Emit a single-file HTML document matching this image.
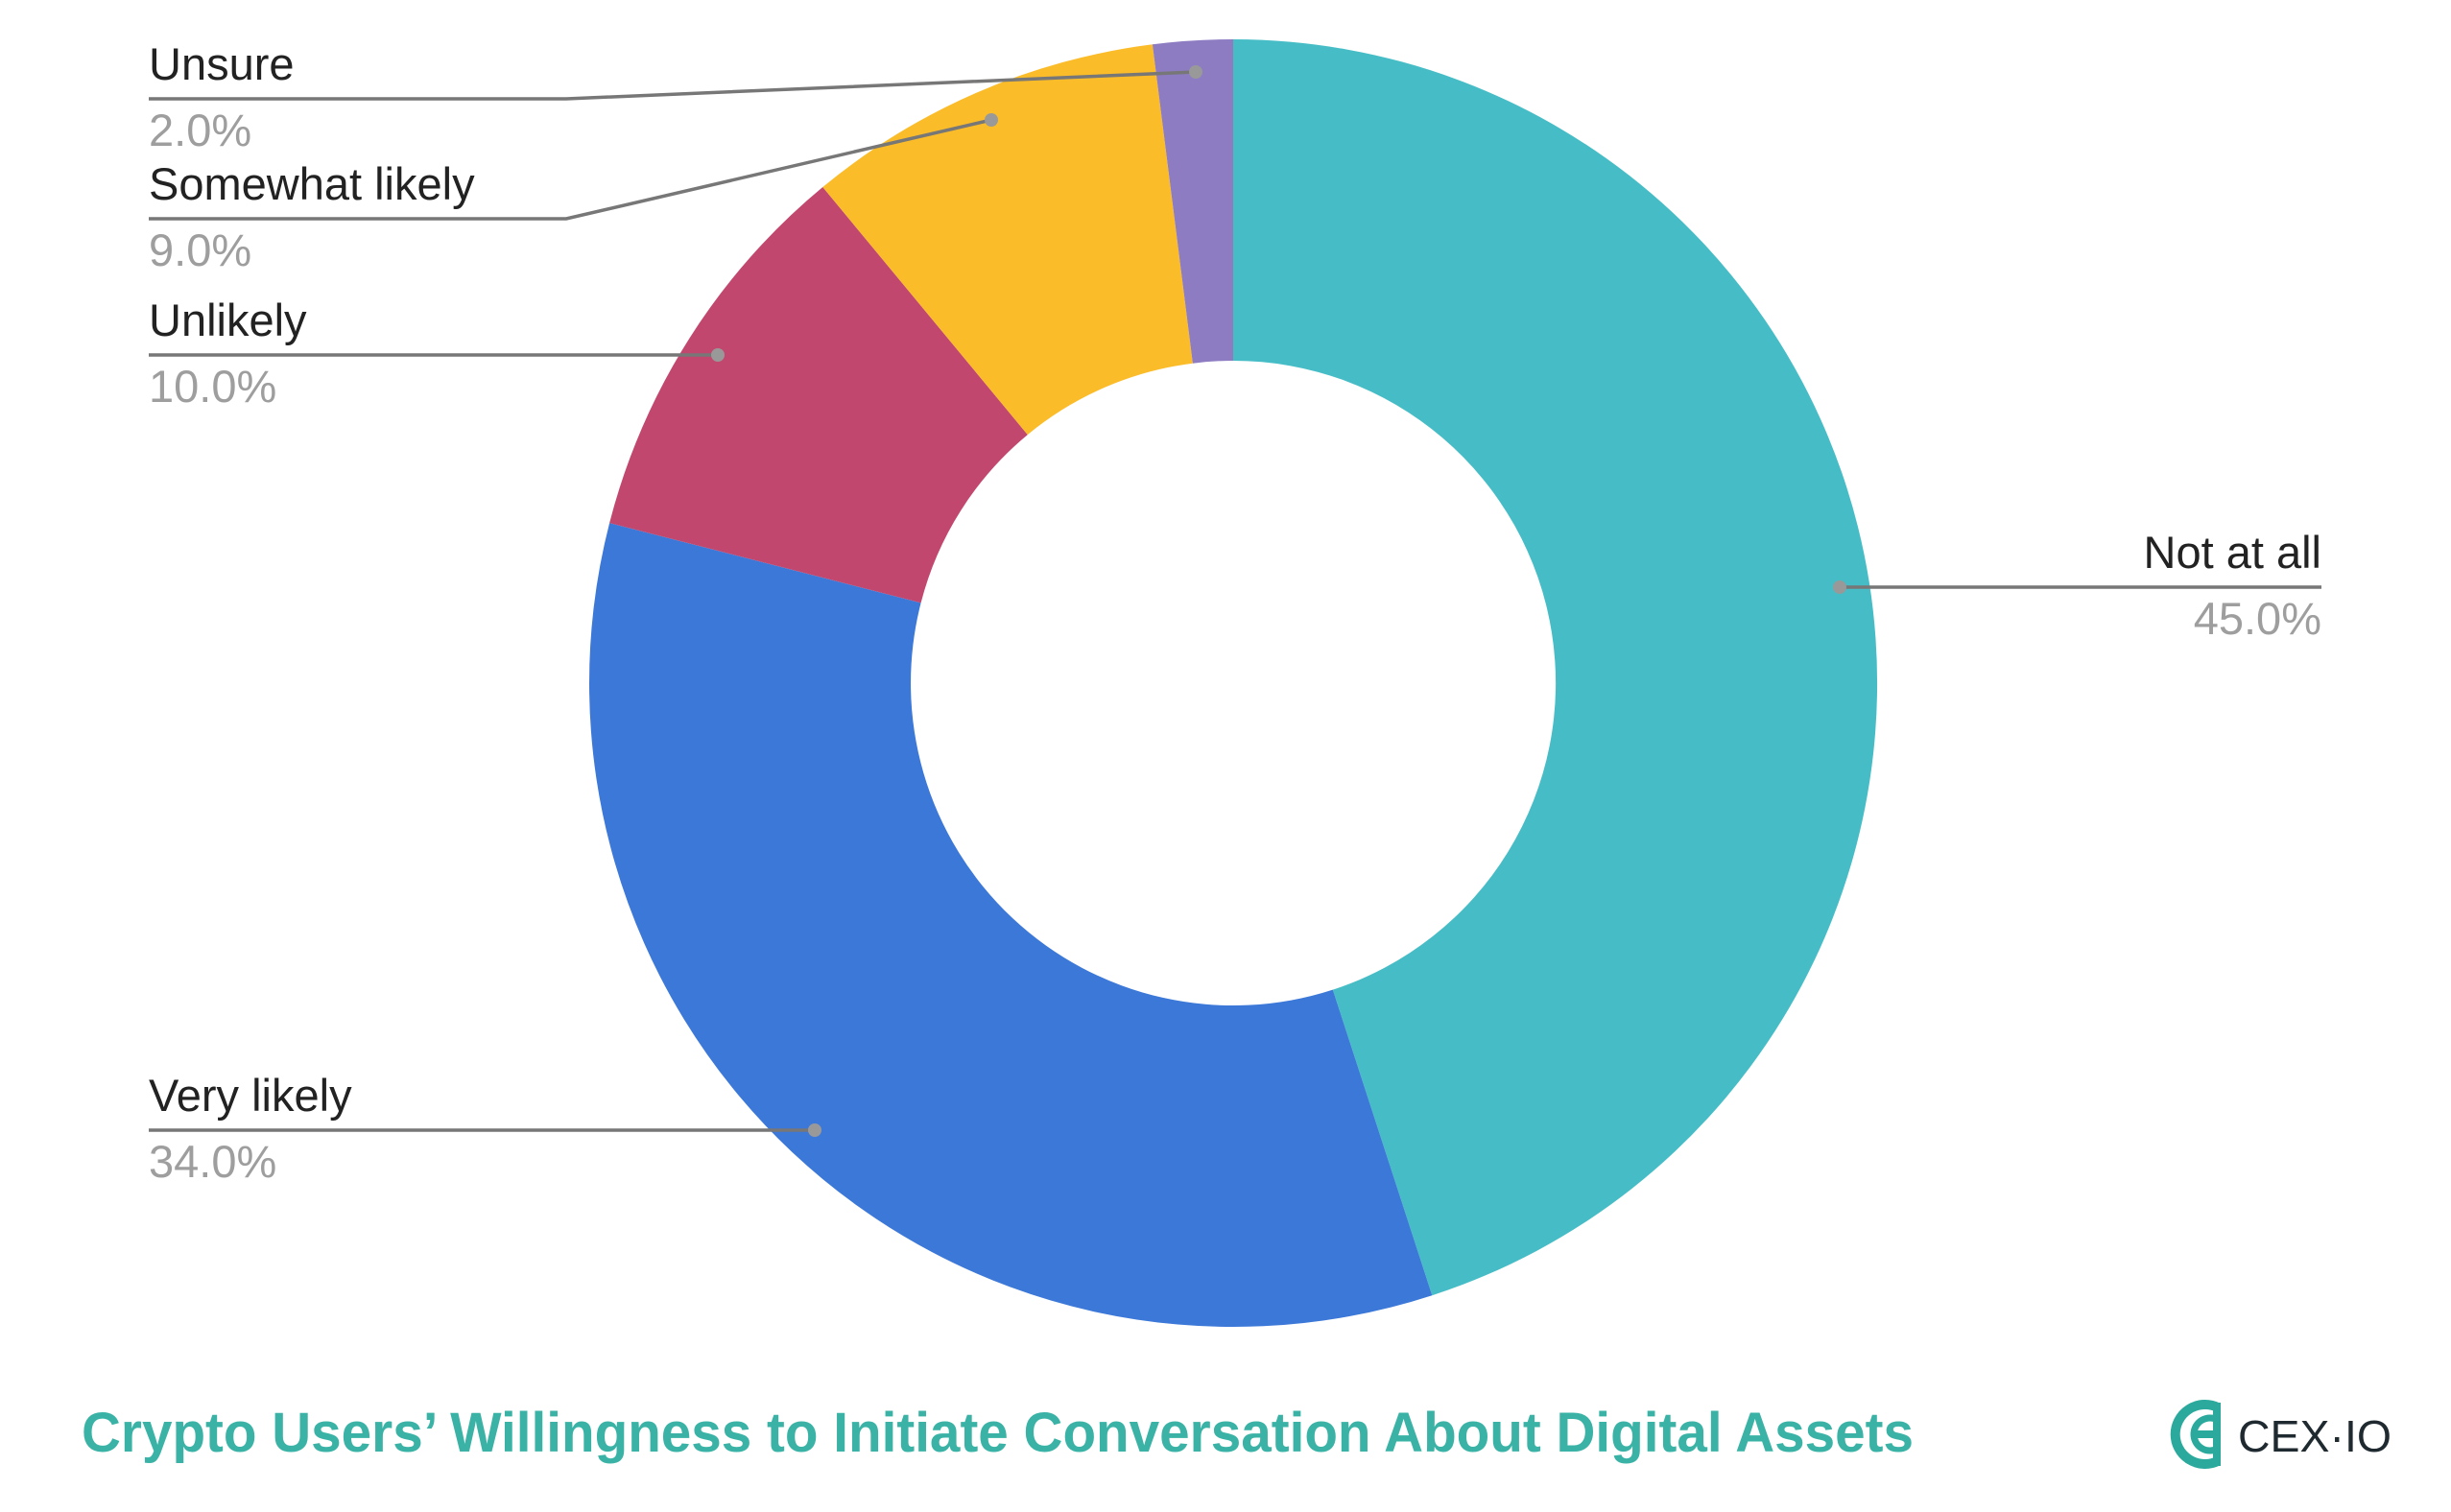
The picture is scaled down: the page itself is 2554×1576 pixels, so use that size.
<!DOCTYPE html>
<html><head><meta charset="utf-8"><style>
html,body{margin:0;padding:0;background:#fff;}
svg{display:block;}
text{font-family:"Liberation Sans",sans-serif;}
</style></head><body>
<svg width="2554" height="1576" viewBox="0 0 2554 1576" xmlns="http://www.w3.org/2000/svg">
<rect width="2554" height="1576" fill="#fff"/>
<path d="M1285,41 A671,671 0 0 1 1492.3,1350.2 L1388.8,1031.6 A336,336 0 0 0 1285,376 Z" fill="#46BDC6"/>
<path d="M1492.3,1350.2 A671,671 0 0 1 635.1,545.1 L959.6,628.4 A336,336 0 0 0 1388.8,1031.6 Z" fill="#3C78D8"/>
<path d="M635.1,545.1 A671,671 0 0 1 857.3,195 L1070.8,453.1 A336,336 0 0 0 959.6,628.4 Z" fill="#C2476F"/>
<path d="M857.3,195 A671,671 0 0 1 1200.9,46.3 L1242.9,378.7 A336,336 0 0 0 1070.8,453.1 Z" fill="#FBBC2A"/>
<path d="M1200.9,46.3 A671,671 0 0 1 1285,41 L1285,376 A336,336 0 0 0 1242.9,378.7 Z" fill="#8E7CC3"/>
<g stroke="#777" stroke-width="3.5" fill="none">
<polyline points="155,103 590,103 1246,75"/>
<polyline points="155,228 590,228 1033,125"/>
<polyline points="155,370 748,370"/>
<polyline points="155,1178 849,1178"/>
<polyline points="1917,612 2419,612"/>
</g>
<g fill="#999">
<circle cx="1246" cy="75" r="7"/><circle cx="1033" cy="125" r="7"/><circle cx="748" cy="370" r="7"/><circle cx="849" cy="1178" r="7"/><circle cx="1917" cy="612" r="7"/>
</g>
<g font-size="47" fill="#222">
<text x="155" y="83">Unsure</text>
<text x="155" y="208">Somewhat likely</text>
<text x="155" y="350">Unlikely</text>
<text x="155" y="1158">Very likely</text>
<text x="2419" y="592" text-anchor="end">Not at all</text>
</g>
<g font-size="47" fill="#9e9e9e">
<text x="155" y="152">2.0%</text>
<text x="155" y="277">9.0%</text>
<text x="155" y="419">10.0%</text>
<text x="155" y="1227">34.0%</text>
<text x="2419" y="661" text-anchor="end">45.0%</text>
</g>
<text x="85" y="1513" font-size="58" font-weight="bold" fill="#3AB3A6" textLength="1909" lengthAdjust="spacingAndGlyphs">Crypto Users’ Willingness to Initiate Conversation About Digital Assets</text>
<g>
<path d="M2311,1467 A31,31 0 1 0 2311,1523" stroke="#2AA99C" stroke-width="10" fill="none"/>
<path d="M2311,1480 A17,17 0 1 0 2311,1510" stroke="#2AA99C" stroke-width="7" fill="none"/>
<rect x="2283" y="1491" width="30" height="8" fill="#2AA99C"/>
<rect x="2306" y="1462" width="8" height="66" fill="#2AA99C"/>
<text x="2332" y="1513" font-size="46" fill="#1f2a30" textLength="160" lengthAdjust="spacingAndGlyphs">CEX·IO</text>
</g>
</svg>
</body></html>
